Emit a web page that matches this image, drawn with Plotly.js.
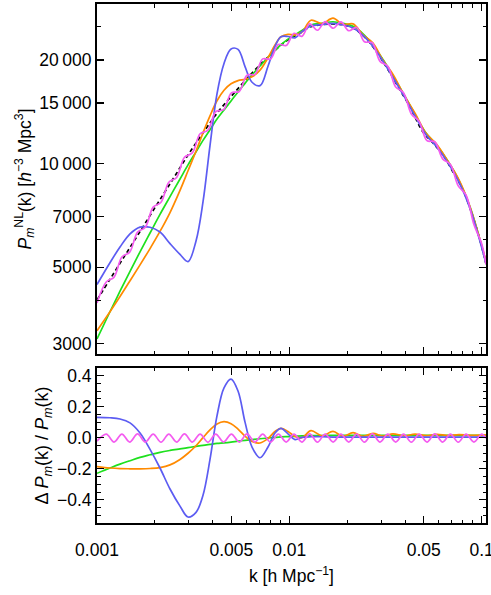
<!DOCTYPE html>
<html>
<head>
<meta charset="utf-8">
<script src="https://cdn.plot.ly/plotly-3.0.1.min.js"></script>
<style>html,body{margin:0;padding:0;background:#fff}</style>
</head>
<body>
<div id="chart" style="width:491px;height:595px"></div>
<script>
// reference nonlinear spectrum (black dashed)
const kRef = [0.001, 0.001168, 0.001398, 0.001674, 0.002051, 0.002485, 0.002974, 0.003645, 0.004258, 0.005221,
  0.0064, 0.007749, 0.009496, 0.01164, 0.01281, 0.01688, 0.02069, 0.02332, 0.02628, 0.02962,
  0.03339, 0.03764, 0.04243, 0.04957, 0.05588, 0.06299, 0.07101, 0.08003, 0.09019, 0.0981, 0.1054];
const pRef = [4012, 4608, 5408, 6346, 7608, 9018, 10588, 12516, 14122, 16145,
  18337, 20407, 22563, 24125, 24944, 25451, 24990, 23963, 22408, 20407,
  18337, 16363, 14602, 12349, 11473, 10588, 9450, 8380, 6992, 5994, 5105];

// k grid for the green / orange / blue models
const kGrid = [0.001, 0.001168, 0.001317, 0.001485, 0.001674, 0.001887, 0.002126, 0.002397, 0.002702, 0.002974,
  0.003273, 0.003558, 0.003869, 0.004207, 0.004576, 0.004977, 0.005412, 0.005885, 0.0064, 0.007042,
  0.007749, 0.008427, 0.009053, 0.009846, 0.01071, 0.01164, 0.01297, 0.01479, 0.01688, 0.01903,
  0.02145, 0.02417, 0.02724, 0.03071, 0.03461, 0.03949, 0.04505, 0.05139, 0.05862, 0.06688,
  0.07629, 0.087, 0.1054];

const pGreen = [3093, 3709, 4255, 4861, 5540, 6282, 7118, 8017, 9020, 9910,
  10817, 11676, 12545, 13472, 14319, 15205, 16152, 17104, 18113, 19207,
  20365, 21313, 22149, 22994, 23681, 24390, 25290, 25561, 25833, 25559,
  25050, 23838, 22116, 20056, 17984, 15867, 13897, 12263, 11280, 10154,
  8923, 7493, 5182];
const pOrange = [3266, 3709, 4106, 4564, 5077, 5661, 6348, 7205, 8359, 9529,
  10863, 12278, 13764, 15221, 16333, 17051, 17423, 17574, 17875, 18684,
  20304, 22121, 23361, 23747, 23658, 24125, 26088, 25510, 26469, 25382,
  25470, 23674, 22399, 19958, 18161, 15821, 14007, 12239, 11346, 10144,
  8967, 7493, 5197];
const pBlue = [4450, 5150, 5720, 6247, 6536, 6529, 6324, 5851, 5443, 5188,
  5959, 7735, 11274, 15949, 19547, 21540, 21470, 19140, 17233, 16847,
  19182, 21908, 23361, 23405, 23188, 24173, 25115, 25359, 25553, 25282,
  24779, 23580, 21876, 19839, 17789, 15696, 13747, 12130, 11157, 10044,
  8826, 7412, 5125];

const rGreen = [-0.229, -0.195, -0.17, -0.148, -0.127, -0.11, -0.094, -0.082, -0.072, -0.064,
  -0.056, -0.049, -0.043, -0.037, -0.033, -0.028, -0.022, -0.017, -0.012, -0.007,
  -0.002, 0.002, 0.005, 0.007, 0.009, 0.011, 0.013, 0.014, 0.015, 0.015,
  0.015, 0.015, 0.015, 0.015, 0.015, 0.015, 0.015, 0.015, 0.015, 0.015,
  0.015, 0.015, 0.015];
const rOrange = [-0.186, -0.195, -0.199, -0.2, -0.2, -0.198, -0.192, -0.175, -0.14, -0.1,
  -0.052, 0.0, 0.05, 0.088, 0.103, 0.09, 0.055, 0.01, -0.025, -0.034,
  -0.005, 0.04, 0.06, 0.04, 0.008, 0.0, 0.045, 0.012, 0.04, 0.008,
  0.032, 0.008, 0.028, 0.01, 0.025, 0.012, 0.023, 0.013, 0.021, 0.014,
  0.02, 0.015, 0.018];
const rBlue = [0.131, 0.128, 0.12, 0.095, 0.03, -0.075, -0.195, -0.33, -0.44, -0.51,
  -0.48, -0.37, -0.14, 0.14, 0.32, 0.377, 0.3, 0.1, -0.06, -0.129,
  -0.06, 0.03, 0.06, 0.025, -0.012, 0.002, 0.006, 0.006, 0.004, 0.004,
  0.004, 0.004, 0.004, 0.004, 0.004, 0.004, 0.004, 0.004, 0.004, 0.004,
  0.004, 0.004, 0.004];

// magenta model: peaks and troughs of the wiggles
const kWig = [0.001, 0.001117, 0.001227, 0.001347, 0.001479, 0.001625, 0.001784, 0.001959, 0.002152, 0.002363,
  0.002595, 0.00285, 0.00313, 0.003437, 0.003775, 0.004145, 0.004552, 0.004999, 0.00549, 0.00603,
  0.006622, 0.007272, 0.007986, 0.00877, 0.009631, 0.01058, 0.01162, 0.01276, 0.01401, 0.01538,
  0.0169, 0.01855, 0.02038, 0.02238, 0.02458, 0.02699, 0.02964, 0.03255, 0.03575, 0.03926,
  0.04311, 0.04734, 0.05199, 0.0571, 0.06271, 0.06886, 0.07563, 0.08305, 0.09121, 0.1002, 0.1054];
const pMagenta = [3930, 4526, 4677, 5350, 5527, 6320, 6531, 7472, 7716, 8826,
  9114, 10431, 10738, 12206, 12505, 14151, 14344, 16056, 16198, 18076,
  18170, 20150, 20135, 22195, 22033, 23915, 23433, 25483, 24407, 25861,
  24737, 25814, 24326, 24865, 22608, 22442, 19816, 19176, 16690, 16070,
  13939, 13264, 11657, 11568, 10318, 9944, 8612, 8093, 6649, 5840, 5090];
const rMagenta = [-0.022, 0.023, -0.028, 0.023, -0.028, 0.024, -0.028, 0.023, -0.029, 0.023,
  -0.028, 0.024, -0.028, 0.023, -0.029, 0.023, -0.028, 0.023, -0.028, 0.024,
  -0.028, 0.023, -0.029, 0.023, -0.028, 0.023, -0.028, 0.024, -0.029, 0.023,
  -0.028, 0.023, -0.028, 0.023, -0.029, 0.024, -0.028, 0.023, -0.028, 0.023,
  -0.029, 0.023, -0.028, 0.024, -0.028, 0.023, -0.029, 0.023, -0.028, 0.023, -0.004];

const xTickVals = [0.001, 0.005, 0.01, 0.05, 0.1];
const xTickText = ['0.001', '0.005', '0.01', '0.05', '0.1'];
const xMinorVals = [0.002, 0.003, 0.004, 0.006, 0.007, 0.008, 0.009, 0.02, 0.03, 0.04, 0.06, 0.07, 0.08, 0.09];
const yTopVals = [3000, 5000, 7000, 10000, 15000, 20000];
const yTopText = ['3000', '5000', '7000', '10\u2009000', '15\u2009000', '20\u2009000'];
const yTopMinor = [4000, 6000, 8000, 9000, 25000];
const yBotVals = [-0.4, -0.2, 0, 0.2, 0.4];
const yBotText = ['\u22120.4', '\u22120.2', '0.0', '0.2', '0.4'];

const col = {
  ref: '#000000',
  green: '#1ee01e',
  orange: '#ff8a00',
  blue: '#5c5cf2',
  magenta: '#f45cf0',
};

const curve = (x, y, color, xa, ya, extra) => Object.assign({
  x: x, y: y, xaxis: xa, yaxis: ya,
  type: 'scatter', mode: 'lines',
  line: { color: color, width: 1.7, shape: 'spline', smoothing: 1 },
  hoverinfo: 'skip',
}, extra || {});

const data = [
  curve(kRef, pRef, col.ref, 'x', 'y', { line: { color: col.ref, width: 1.7, dash: '4px,3px', shape: 'spline', smoothing: 1 } }),
  curve(kGrid, pGreen, col.green, 'x', 'y'),
  curve(kGrid, pOrange, col.orange, 'x', 'y'),
  curve(kGrid, pBlue, col.blue, 'x', 'y'),
  curve(kWig, pMagenta, col.magenta, 'x', 'y'),
  curve(kGrid, rGreen, col.green, 'x2', 'y2'),
  curve(kGrid, rOrange, col.orange, 'x2', 'y2'),
  curve(kGrid, rBlue, col.blue, 'x2', 'y2'),
  curve(kWig, rMagenta, col.magenta, 'x2', 'y2'),
];

const frame = {
  showline: true, linecolor: 'black', linewidth: 2, mirror: 'ticks',
  ticks: 'inside', ticklen: 7, tickwidth: 1.2, tickcolor: 'black',
  showgrid: false, zeroline: false,
  ticklabeloverflow: 'allow',
  tickfont: { size: 17.5, color: 'black' },
};
const minorTicks = { ticks: 'inside', ticklen: 3.5, tickwidth: 1, tickcolor: 'black', showgrid: false };

const xRange = [-3, Math.log10(0.10541)];

const layout = {
  width: 491,
  height: 595,
  margin: { l: 97, r: 5, t: 4, b: 72 },
  paper_bgcolor: 'white',
  plot_bgcolor: 'white',
  showlegend: false,
  font: { family: 'Liberation Sans, Arial, sans-serif', size: 17, color: 'black' },
  xaxis: Object.assign({}, frame, {
    type: 'log', range: xRange, domain: [0, 1], anchor: 'y',
    tickmode: 'array', tickvals: xTickVals, showticklabels: false,
    minor: Object.assign({ tickmode: 'array', tickvals: xMinorVals }, minorTicks),
  }),
  xaxis2: Object.assign({}, frame, {
    type: 'log', range: xRange, domain: [0, 1], anchor: 'y2',
    tickmode: 'array', tickvals: xTickVals, ticktext: xTickText,
    ticklabelstandoff: 10,
    minor: Object.assign({ tickmode: 'array', tickvals: xMinorVals }, minorTicks),
    title: { text: 'k [h Mpc<sup>\u22121</sup>]', font: { size: 17.5 }, standoff: 11 },
  }),
  yaxis: Object.assign({}, frame, {
    type: 'log', range: [3.4464, 4.4638], domain: [0.3256, 1], anchor: 'x',
    tickmode: 'array', tickvals: yTopVals, ticktext: yTopText,
    minor: Object.assign({ tickmode: 'array', tickvals: yTopMinor }, minorTicks),
    title: { text: '<i>P<sub>m</sub></i><sup>NL</sup>(k) [<i>h</i><sup>\u22123</sup> Mpc<sup>3</sup>]', font: { size: 17.5 } },
  }),
  yaxis2: Object.assign({}, frame, {
    range: [-0.5486, 0.4482], domain: [0, 0.2987], anchor: 'x2',
    tickmode: 'array', tickvals: yBotVals, ticktext: yBotText,
    minor: Object.assign({ tickmode: 'linear', tick0: 0, dtick: 0.05 }, minorTicks),
    title: { text: '\u0394 <i>P<sub>m</sub></i>(k) / <i>P<sub>m</sub></i>(k)', font: { size: 18 } },
  }),
};

const config = { displayModeBar: false, staticPlot: true };

Plotly.newPlot('chart', data, layout, config);
</script>
</body>
</html>
